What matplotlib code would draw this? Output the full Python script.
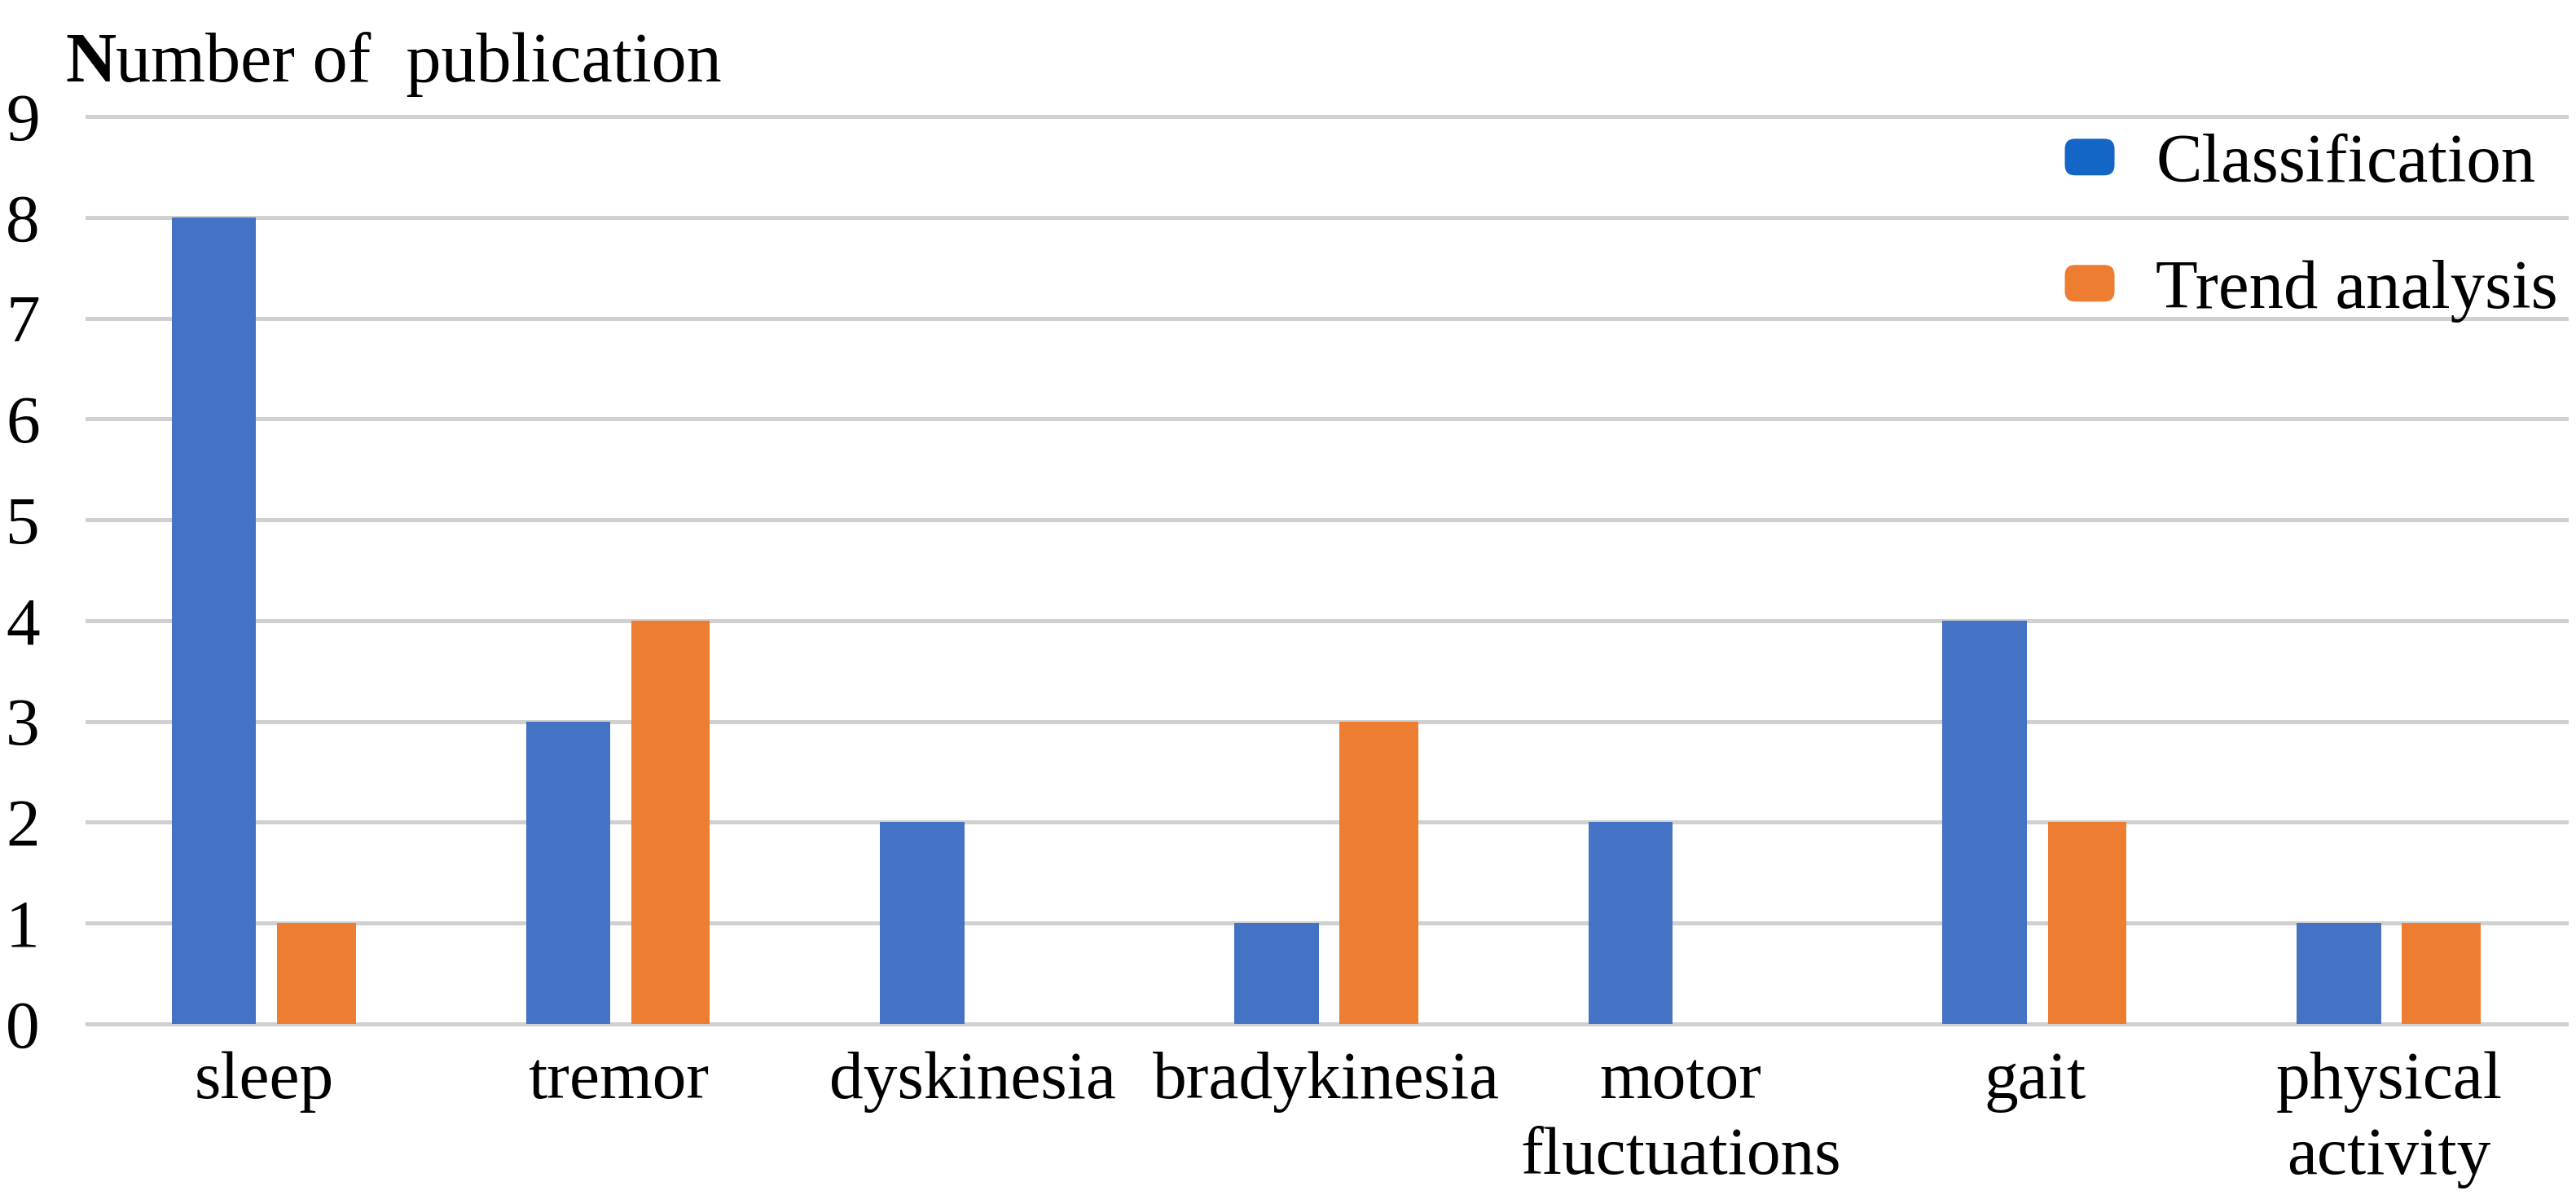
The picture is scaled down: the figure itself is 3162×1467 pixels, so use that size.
import matplotlib
matplotlib.use("Agg")
import matplotlib.pyplot as plt
import numpy as np
from matplotlib.patches import Patch, FancyBboxPatch
from matplotlib.legend_handler import HandlerPatch

categories = ['sleep', 'tremor', 'dyskinesia', 'bradykinesia',
              'motor\nfluctuations', 'gait', 'physical\nactivity']
classification = [8, 3, 2, 1, 2, 4, 1]
trend_analysis = [1, 4, 0, 3, 0, 2, 1]
series_names = ['Classification', 'Trend analysis']
yticks = list(range(0, 10))

plt.rcParams['font.family'] = ['Liberation Serif', 'DejaVu Serif']

W, H = 3162, 1467
fig = plt.figure(figsize=(W / 100, H / 100), dpi=100)
ax = fig.add_axes([107 / W, 210 / H, (3150 - 107) / W, (1257 - 143) / H])

x = np.arange(len(categories))
blue = '#4472C4'
orange = '#ED7D31'
ax.bar(x - 0.142, classification, width=0.238, color=blue, zorder=3)
ax.bar(x + 0.147, trend_analysis, width=0.222, color=orange, zorder=3)

ax.set_xlim(-0.5, len(categories) - 0.5)
ax.set_ylim(0, 9)
ax.set_yticks(yticks)
ax.set_yticklabels([str(v) for v in yticks])
ax.set_xticks(x)
ax.set_xticklabels(categories, linespacing=1.3)
ax.grid(axis='y', color='#D0D0D0', linewidth=3.6, zorder=0)
ax.set_axisbelow(True)
for ln in ax.get_ygridlines():
    ln.set_clip_on(False)
for s in ax.spines.values():
    s.set_visible(False)
ax.tick_params(axis='both', length=0, labelsize=60, colors='black')
ax.tick_params(axis='y', pad=42)
ax.tick_params(axis='x', pad=24)


def rounded(legend, orig_handle, xdescent, ydescent, width, height, fontsize):
    return FancyBboxPatch((-xdescent, -ydescent), width, height,
                          boxstyle="round,pad=0,rounding_size=%f" % (height * 0.28))


handles = [Patch(facecolor='#1366C6', edgecolor='none'),
           Patch(facecolor=orange, edgecolor='none')]
leg = ax.legend(handles, series_names, loc='upper right',
                bbox_to_anchor=(3140 / W, 1 - 164 / H), bbox_transform=fig.transFigure,
                frameon=False, fontsize=61, handlelength=0.72, handleheight=0.44,
                handletextpad=0.6, labelspacing=0.92, borderpad=0, borderaxespad=0,
                handler_map={Patch: HandlerPatch(patch_func=rounded)})

# title with bold N
ty = 1 - 100 / H
t1 = fig.text(80 / W, ty, 'N', fontsize=62, fontweight='bold', va='baseline', ha='left')
fig.canvas.draw()
r = fig.canvas.get_renderer()
bb = t1.get_window_extent(r)
fig.text(bb.x1 / W, ty, 'umber of  publication', fontsize=62, va='baseline', ha='left')

fig.savefig('out.png', dpi=100)
